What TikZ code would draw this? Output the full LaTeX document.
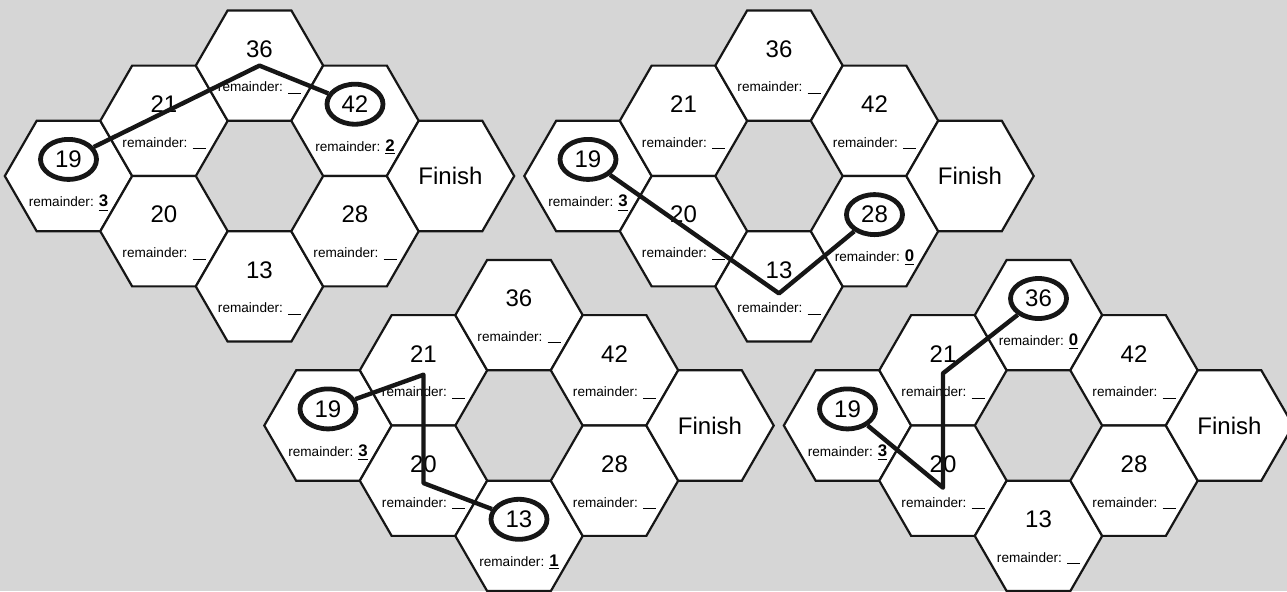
\documentclass[tikz,border=0pt]{standalone}
\usepackage{fontspec}
\setmainfont{Liberation Sans}
\definecolor{paper}{RGB}{214, 214, 214}
\definecolor{ink}{RGB}{22, 22, 22}
\usetikzlibrary{shapes.geometric}
\newcommand{\ans}[1]{\underline{\fontsize{8.4}{9}\selectfont\textbf{#1}}}
\newcommand{\gapline}{\rule[-1pt]{6.5pt}{0.5pt}}

\begin{document}
\begin{tikzpicture}[x=0.5pt, y=-0.5pt,
    hexcell/.style={regular polygon, regular polygon sides=6, minimum size=63.7pt,
                    inner sep=0pt, draw=ink, line width=1.1pt, fill=white},
    num/.style={font=\fontsize{12}{14}\selectfont, inner sep=0pt},
    rem/.style={font=\fontsize{6.8}{8}\selectfont, inner sep=0pt},
    ring/.style={ellipse, draw=ink, line width=2.4pt, minimum width=28pt,
                 minimum height=20pt, inner sep=0pt},
    trail/.style={draw=ink, line width=2.2pt, line join=round}]
                % Paper
                \useasboundingbox (0,0) rectangle (1287,591);
                \fill[paper] (0,0) rectangle (1287,591);

                % Four boards: board, centre of cell 19, circled cell, its remainder
                \foreach \g/\ox/\oy/\hit/\val in {1/68.5/176/42/2, 2/588/176/28/0,
                                                 3/328/425.5/13/1, 4/847.5/425.5/36/0} {
                    \foreach \c/\i/\j in {19/0/0, 21/1/-1, 20/1/1, 36/2/-2,
                                          13/2/2, 42/3/-1, 28/3/1} {
                        \ifnum\c=19 \def\rtxt{\ans{3}}\def\rsh{-13.6pt}%
                        \else\ifnum\c=\hit \def\rtxt{\ans{\val}}\def\rsh{-13.2pt}%
                        \else \def\rtxt{\gapline}\def\rsh{-11.2pt}\fi\fi
                        \node[hexcell] (g\g-\c) at (\ox+95.5*\i, \oy+55.2*\j) {};
                        \node[num] (n\g-\c) at ([yshift=8.3pt]g\g-\c.center) {\c};
                        \node[rem] (r\g-\c) at ([yshift=\rsh]g\g-\c.center) {remainder: \rtxt};
                    }
                    \node[hexcell] (g\g-fin) at (\ox+382, \oy) {};
                    \node[num] (n\g-fin) at (g\g-fin.center) {Finish};
                }

                % Board 1: 19 -> 36 -> 42
                \node[ring] (c1-19) at (n1-19) {};
                \node[ring] (c1-42) at (n1-42) {};
                \coordinate (k1) at (g1-36.center);
                \draw[trail] (c1-19) -- (k1) -- (c1-42);

                % Board 2: 19 -> 13 -> 28
                \node[ring] (c2-19) at (n2-19) {};
                \node[ring] (c2-28) at (n2-28) {};
                \coordinate (k2) at ([yshift=-3.5pt]g2-13.center);
                \draw[trail] (c2-19) -- (k2) -- (c2-28);

                % Board 3: 19 -> 21 -> 20 -> 13
                \node[ring] (c3-19) at (n3-19) {};
                \node[ring] (c3-13) at (n3-13) {};
                \coordinate (k3a) at ([yshift=-2.2pt]g3-21.center);
                \coordinate (k3b) at ([yshift=-1.2pt]g3-20.center);
                \draw[trail] (c3-19) -- (k3a) -- (k3b) -- (c3-13);

                % Board 4: 19 -> 20 -> 21 -> 36
                \node[ring] (c4-19) at (n4-19) {};
                \node[ring] (c4-36) at (n4-36) {};
                \coordinate (k4a) at ([yshift=-3.5pt]g4-20.center);
                \coordinate (k4b) at ([yshift=-1.5pt]g4-21.center);
                \draw[trail] (c4-19) -- (k4a) -- (k4b) -- (c4-36);
\end{tikzpicture}
\end{document}
